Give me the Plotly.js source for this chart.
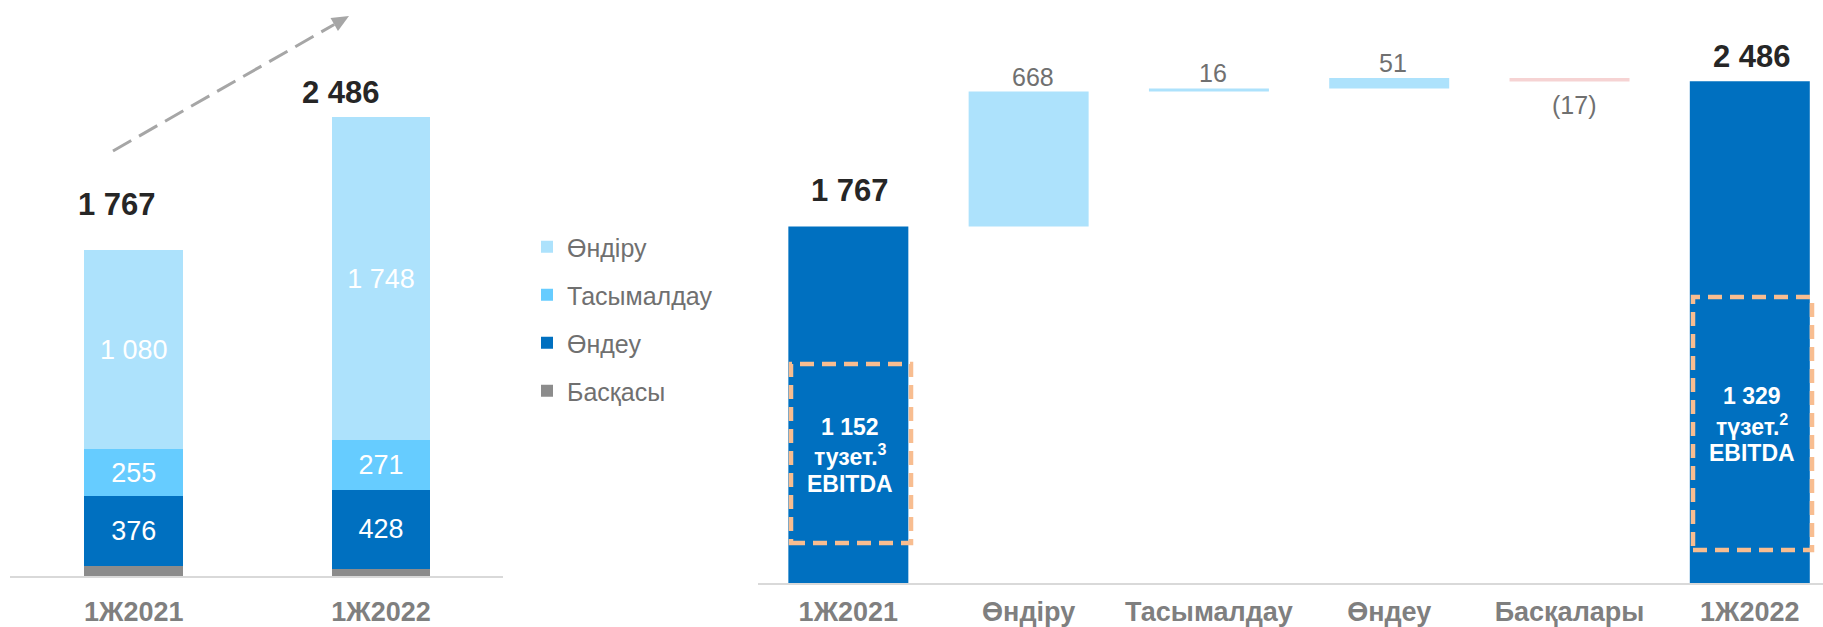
<!DOCTYPE html>
<html>
<head>
<meta charset="utf-8">
<script src="https://cdn.plot.ly/plotly-3.0.1.min.js"></script>
<style>
  html, body { margin: 0; padding: 0; background: #ffffff; }
  #chart { width: 1823px; height: 627px; }
</style>
</head>
<body>
<div id="chart"></div>
<script>
// ---------- DATA ----------
const leftCats = ['1Ж2021', '1Ж2022'];
const ondiru = [1080, 1748];
const tasymaldau = [255, 271];
const ondeu = [376, 428];
const baskasy = [56, 39];
const leftTotals = [1767, 2486];

const bridgeCats = ['1Ж2021', 'Өндіру', 'Тасымалдау', 'Өндеу', 'Басқалары', '1Ж2022'];
const bridgeValues = [1767, 668, 16, 51, -17, 2486];
const bridgeMeasures = ['absolute', 'relative', 'relative', 'relative', 'relative', 'absolute'];

const ebitdaValues = [1152, 1329];
const ebitdaWords = ['тузет.', 'түзет.'];
const ebitdaNotes = ['3', '2'];

const seriesNames = ['Басқасы', 'Өндеу', 'Тасымалдау', 'Өндіру'];

// ---------- HELPERS ----------
const W = 1823, H = 627;
const FONT = 'Liberation Sans, Arial, sans-serif';
const fmt = n => {
  const s = String(Math.abs(n)).replace(/\B(?=(\d{3})+(?!\d))/g, ' ');
  return n < 0 ? '(' + s + ')' : s;
};
const px = x => x / W;
const py = y => 1 - y / H;

// ---------- STYLES ----------
const C_ONDIRU = '#ADE2FC';
const C_TAS = '#66CCFF';
const C_ONDEU = '#0070C0';
const C_BASK = '#8C8C8C';
const C_NEG = '#F6D3D3';
const C_AXIS = '#D9D9D9';
const C_TICK = '#7F7F7F';
const C_DARK = '#262626';

const barText = arr => ({
  text: arr.map(fmt),
  texttemplate: '%{text}',
  textposition: 'inside',
  insidetextanchor: 'middle',
  constraintext: 'none',
  textangle: 0,
  textfont: { family: FONT, size: 27, color: '#ffffff' }
});

const traces = [
  { type: 'bar', name: seriesNames[0], legendgroup: 'g0', legendrank: 4, x: leftCats, y: baskasy,
    marker: { color: C_BASK }, textposition: 'none', xaxis: 'x', yaxis: 'y', hoverinfo: 'skip' },
  Object.assign({ type: 'bar', name: seriesNames[1], legendgroup: 'g1', legendrank: 3, x: leftCats, y: ondeu,
    marker: { color: C_ONDEU }, xaxis: 'x', yaxis: 'y', hoverinfo: 'skip' }, barText(ondeu)),
  Object.assign({ type: 'bar', name: seriesNames[2], legendgroup: 'g2', legendrank: 2, x: leftCats, y: tasymaldau,
    marker: { color: C_TAS }, xaxis: 'x', yaxis: 'y', hoverinfo: 'skip' }, barText(tasymaldau)),
  Object.assign({ type: 'bar', name: seriesNames[3], legendgroup: 'g3', legendrank: 1, x: leftCats, y: ondiru,
    marker: { color: C_ONDIRU }, xaxis: 'x', yaxis: 'y', hoverinfo: 'skip' }, barText(ondiru)),
  {
    type: 'waterfall', x: bridgeCats, y: bridgeValues, measure: bridgeMeasures,
    xaxis: 'x2', yaxis: 'y2', showlegend: false, hoverinfo: 'skip',
    connector: { visible: false },
    increasing: { marker: { color: C_ONDIRU } },
    decreasing: { marker: { color: C_NEG } },
    totals: { marker: { color: C_ONDEU } },
    textinfo: 'none'
  }
];

// ---------- ANNOTATIONS ----------
const annotations = [];
const leftTotalShift = [[-17, 45], [-40, 25]];
leftTotals.forEach((t, i) => {
  annotations.push({
    xref: 'x', yref: 'y', x: leftCats[i], y: t, text: '<b>' + fmt(t) + '</b>',
    showarrow: false, xanchor: 'center', yanchor: 'middle',
    xshift: leftTotalShift[i][0], yshift: leftTotalShift[i][1],
    font: { family: FONT, size: 31, color: C_DARK }
  });
});

// waterfall labels
let cum = 0;
bridgeValues.forEach((v, i) => {
  const m = bridgeMeasures[i];
  if (m === 'absolute') {
    cum = v;
    annotations.push({
      xref: 'x2', yref: 'y2', x: bridgeCats[i], y: v, text: '<b>' + fmt(v) + '</b>',
      showarrow: false, xanchor: 'center', yanchor: 'middle', yshift: i === 0 ? 36 : 25,
      xshift: 2,
      font: { family: FONT, size: 31, color: C_DARK }
    });
  } else {
    cum += v;
    annotations.push({
      xref: 'x2', yref: 'y2', x: bridgeCats[i], y: cum, text: fmt(v),
      showarrow: false, xanchor: 'center', yanchor: 'middle', yshift: v >= 0 ? 15 : -23,
      xshift: 4,
      font: { family: FONT, size: 25, color: '#707070' }
    });
  }
});

// adjusted EBITDA labels (three lines each)
const ebitdaPos = [[0, [426.5, 455, 483.5]], [5, [396, 424.5, 453]]];
ebitdaValues.forEach((v, i) => {
  const lines = ['<b>' + fmt(v) + '</b>',
                 '<b>' + ebitdaWords[i] + '<sup>' + ebitdaNotes[i] + '</sup></b>',
                 '<b>EBITDA</b>'];
  lines.forEach((t, k) => {
    annotations.push({
      xref: 'x2', yref: 'paper', x: bridgeCats[ebitdaPos[i][0]], y: py(ebitdaPos[i][1][k]),
      text: t, showarrow: false, xanchor: 'center', yanchor: 'middle', xshift: 2,
      font: { family: FONT, size: 23, color: '#ffffff' }
    });
  });
});

// ---------- SHAPES ----------
const shapes = [];
// dashed growth arrow
const a0 = [113, 151], a1 = [349, 16];
const dx = a1[0] - a0[0], dy = a1[1] - a0[1];
const len = Math.hypot(dx, dy);
const ux = dx / len, uy = dy / len;
const headL = 17, headW = 7.5;
const bx = a1[0] - ux * headL, by = a1[1] - uy * headL;
shapes.push({
  type: 'line', xref: 'paper', yref: 'paper',
  x0: px(a0[0]), y0: py(a0[1]), x1: px(bx), y1: py(by),
  line: { color: '#A6A6A6', width: 3, dash: '21px,9px' }
});
const c1 = [bx - uy * headW, by + ux * headW], c2 = [bx + uy * headW, by - ux * headW];
shapes.push({
  type: 'path', xref: 'paper', yref: 'paper',
  path: `M ${px(a1[0])} ${py(a1[1])} L ${px(c1[0])} ${py(c1[1])} L ${px(c2[0])} ${py(c2[1])} Z`,
  fillcolor: '#A6A6A6', line: { width: 0 }
});
// dashed EBITDA boxes
[[791, 364, 911, 543], [1693, 297, 1812, 550]].forEach(b => {
  shapes.push({
    type: 'rect', xref: 'paper', yref: 'paper',
    x0: px(b[0]), y0: py(b[3]), x1: px(b[2]), y1: py(b[1]),
    line: { color: '#F8BD90', width: 4.5, dash: '14px,8px' }, fillcolor: 'rgba(0,0,0,0)'
  });
});

// ---------- LAYOUT ----------
const tickFont = { family: FONT, size: 27, color: C_TICK, weight: 'bold' };
const layout = {
  width: W, height: H,
  margin: { l: 0, r: 0, t: 0, b: 0, pad: 0 },
  paper_bgcolor: '#ffffff', plot_bgcolor: 'rgba(0,0,0,0)',
  font: { family: FONT },
  barmode: 'stack', bargap: 0.6, waterfallgap: 0.3345,
  showlegend: true,
  legend: {
    x: px(527), y: py(224), xanchor: 'left', yanchor: 'top',
    traceorder: 'grouped', tracegroupgap: 12.5,
    font: { family: FONT, size: 25, color: '#707070' },
    bgcolor: 'rgba(0,0,0,0)', borderwidth: 0
  },
  xaxis: {
    domain: [px(10.2), px(503)], range: [-0.5, 1.4935], type: 'category',
    showline: true, linecolor: C_AXIS, linewidth: 2, showgrid: false, zeroline: false,
    ticks: '', ticklen: 0, ticklabelstandoff: 11, tickfont: tickFont, anchor: 'y', fixedrange: true
  },
  yaxis: {
    domain: [(H - 576) / H, 1], range: [0, 3122], visible: false, anchor: 'x', fixedrange: true
  },
  xaxis2: {
    domain: [px(758.2), 1], range: [-0.5, 5.406], type: 'category',
    showline: true, linecolor: C_AXIS, linewidth: 2, showgrid: false, zeroline: false,
    ticks: '', ticklen: 0, ticklabelstandoff: 4, tickfont: tickFont, anchor: 'y2', fixedrange: true
  },
  yaxis2: {
    domain: [(H - 583) / H, 1], range: [0, 2889], visible: false, anchor: 'x2', fixedrange: true
  },
  annotations: annotations,
  shapes: shapes,
  hovermode: false
};

Plotly.newPlot('chart', traces, layout, { staticPlot: true, displayModeBar: false });
</script>
</body>
</html>
